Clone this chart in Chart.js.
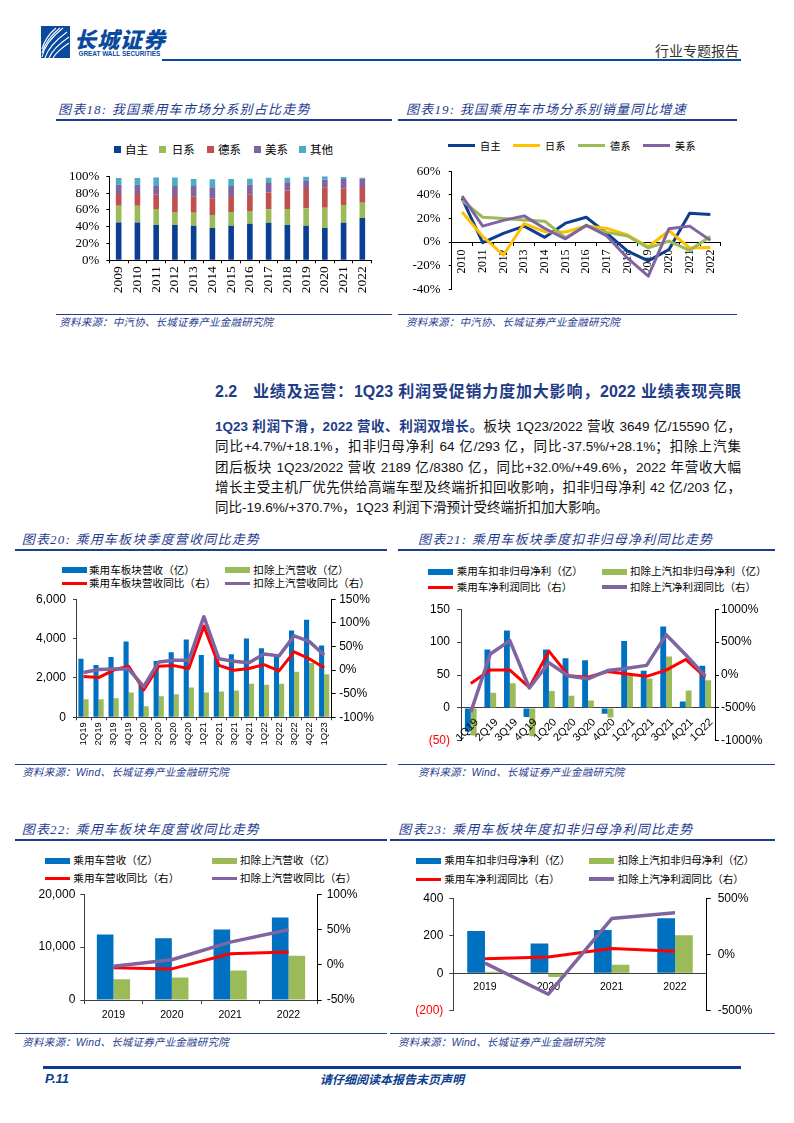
<!DOCTYPE html>
<html><head><meta charset="utf-8">
<script src="https://cdn.jsdelivr.net/npm/chart.js@4.4.1/dist/chart.umd.min.js"></script>
<style>
body{margin:0;background:#fff;}
#page{position:relative;width:794px;height:1123px;overflow:hidden;font-family:"Liberation Sans","Noto Sans CJK SC",sans-serif;color:#111;}
.ttl{position:absolute;font-size:13px;font-style:italic;color:#1F3D8F;letter-spacing:1.2px;white-space:nowrap;line-height:16px;font-family:"Liberation Serif","Noto Sans CJK SC",serif;}
.src{position:absolute;font-size:10.5px;font-style:italic;color:#1F3D8F;white-space:nowrap;line-height:14px;font-family:"Liberation Sans","Noto Sans CJK SC",sans-serif;letter-spacing:0.2px;}
.hl{position:absolute;height:1.5px;background:#1F3D8F;}
.bl{position:absolute;left:215px;width:526px;font-size:13.5px;line-height:20.3px;text-align:justify;text-align-last:justify;font-family:"Liberation Sans","Noto Sans CJK SC",sans-serif;color:#111;}
.bl b{color:#1F3C88;}
</style></head>
<body><div id="page">
  <!-- header -->
  <div style="position:absolute;left:40.5px;top:25.5px;width:29px;height:32px;background:#0A4A9E;overflow:hidden">
    <svg width="29" height="32" viewBox="0 0 29 32">
      <g fill="none" stroke="#fff" stroke-width="1.1">
        <path d="M1 31 Q4 16 22 2"/><path d="M1 27 Q5 13 19 2"/><path d="M1 23 Q5 10 15 2"/>
        <path d="M4 32 Q8 19 26 6"/><path d="M8 32 Q12 22 28 11"/><path d="M12 32 Q16 25 28 17"/>
      </g>
    </svg>
  </div>
  <div style="position:absolute;left:74px;top:24px;font-size:22px;line-height:28px;font-weight:900;color:#0A4A9E;letter-spacing:1px;font-family:'Noto Sans CJK SC';font-style:italic">长城证券</div>
  <div style="position:absolute;left:78.5px;top:50px;font-size:6.4px;line-height:8px;font-weight:bold;color:#0A4A9E;white-space:nowrap;font-family:'Liberation Sans'">GREAT WALL SECURITIES</div>
  <div style="position:absolute;right:55px;top:40px;font-size:14px;line-height:20px;color:#333;font-family:'Noto Sans CJK SC'">行业专题报告</div>
  <div style="position:absolute;left:161.5px;top:58.5px;width:579.5px;height:2.5px;background:#0A4A9E"></div>

  <!-- section text -->
  <div style="position:absolute;left:215px;top:380.7px;width:526px;font-size:16px;line-height:22px;font-weight:bold;color:#1F3C88;text-align:justify;text-align-last:justify;font-family:'Liberation Sans','Noto Sans CJK SC'">2.2&nbsp;&nbsp; 业绩及运营：1Q23 利润受促销力度加大影响，2022 业绩表现亮眼</div>
  <div class="bl" style="top:416.9px"><b>1Q23 利润下滑，2022 营收、利润双增长。</b>板块 1Q23/2022 营收 3649 亿/15590 亿，</div>
  <div class="bl" style="top:437.2px">同比+4.7%/+18.1%，扣非归母净利 64 亿/293 亿，同比-37.5%/+28.1%；扣除上汽集</div>
  <div class="bl" style="top:457.5px">团后板块 1Q23/2022 营收 2189 亿/8380 亿，同比+32.0%/+49.6%，2022 年营收大幅</div>
  <div class="bl" style="top:477.8px">增长主受主机厂优先供给高端车型及终端折扣回收影响，扣非归母净利 42 亿/203 亿，</div>
  <div class="bl" style="top:498.1px;text-align-last:left">同比-19.6%/+370.7%，1Q23 利润下滑预计受终端折扣加大影响。</div>

  <!-- footer -->
  <div style="position:absolute;left:42.5px;top:1066.3px;width:698.5px;height:2.3px;background:#0A3D91"></div>
  <div style="position:absolute;left:45px;top:1071px;font-size:13px;line-height:16px;font-weight:bold;font-style:italic;color:#0A3D91">P.11</div>
  <div style="position:absolute;left:320px;top:1071px;font-size:12px;line-height:16px;font-weight:bold;font-style:italic;color:#0A3D91;font-family:'Noto Sans CJK SC'">请仔细阅读本报告末页声明</div>
</div>
<script>
// ---------------- DATA ----------------
// Chart 18: share by origin (%)
const years18 = ['2009','2010','2011','2012','2013','2014','2015','2016','2017','2018','2019','2020','2021','2022'];
const share_zizhu = [45,45,42,42,41,38.5,41,43.6,44.8,42,41,38.5,44.8,50.4];
const share_rixi  = [20,20,19,15.5,15.7,15.5,16.5,15,16,19,21,24,21,18];
const share_dexi  = [14,14,17,19,19,20,19,19.5,20,22,24,24,20,19];
const share_meixi = [11,11,10.5,12,12.7,13,12,12,12,10,8.5,9.5,11,10];
const share_qita  = [8,8,10,10,8.3,9.5,8.3,7,5.6,5.4,5,4,2.5,1];
const legend18 = ['自主','日系','德系','美系','其他'];
// Chart 19: YoY sales growth by origin (%)
const years19 = ['2010','2011','2012','2013','2014','2015','2016','2017','2018','2019','2020','2021','2022'];
const growth_zizhu = [37,-0.5,7.4,13.5,4,16,21,7.4,-7.7,-16,-6.3,24.5,23.4];
const growth_rixi  = [25.5,4.7,-11,15.7,8.8,8.5,13.7,11.5,6,-4,9.6,-5,-4.7];
const growth_dexi  = [35.4,21,20,18.7,17.6,3.8,13.7,8.2,5.2,-5,0.8,-7,4.7];
const growth_meixi = [39,13.5,18.4,22.2,11.5,2.7,14.3,5.2,-13.7,-29,11.3,13.5,1.4];
const legend19 = ['自主','日系','德系','美系'];
// Chart 20: quarterly revenue (亿) and YoY (%)
const quarters20 = ['1Q19','2Q19','3Q19','4Q19','1Q20','2Q20','3Q20','4Q20','1Q21','2Q21','3Q21','4Q21','1Q22','2Q22','3Q22','4Q22','1Q23'];
const rev_pv        = [2975,2660,3060,3855,1650,2860,3305,3955,3160,3050,3205,4005,3505,3150,4405,4950,3649];
const rev_exSAIC    = [915,915,965,1265,565,1065,1165,1510,1265,1315,1365,1710,1660,1710,2310,2760,2189];
const revYoY_pv     = [-13.4,-16,0,8,-42,8,9.4,3.2,93,10,-0.3,3.2,11.5,-1.7,38.5,24,4.7];
const revYoY_exSAIC = [-5,1,2.5,2,-35,17,21,21,113,24,18.4,15.6,34,30,72.4,60.7,32];
const legend20 = ['乘用车板块营收（亿）','扣除上汽营收（亿）','乘用车板块营收同比（右）','扣除上汽营收同比（右）'];
// Chart 21: quarterly net profit ex non-recurring (亿) and YoY (%)
const quarters21 = ['1Q19','2Q19','3Q19','4Q19','1Q20','2Q20','3Q20','4Q20','1Q21','2Q21','3Q21','4Q21','1Q22'];
const np_pv        = [-36,88.6,117.8,-14,88.6,75.4,72.5,-8.8,101.7,56.4,123.6,9.7,64];
const np_exSAIC    = [-42,22.9,37.5,-43,25.8,18.5,11.2,-14.6,49,44.8,78.3,26.3,42];
const npYoY_pv     = [-129,75,75,-187,363,-10,-34,53,14,-20,75,236,-34];
const npYoY_exSAIC = [-564,319,523,-197,187,-15,-58,68,102,146,613,307,-15];
const legend21 = ['乘用车扣非归母净利（亿）','扣除上汽扣非归母净利（亿）','乘用车净利润同比（右）','扣除上汽净利润同比（右）'];
// Chart 22: annual revenue
const years22 = ['2019','2020','2021','2022'];
const annRev_pv        = [12400,11650,13350,15590];
const annRev_exSAIC    = [3900,4250,5600,8380];
const annRevYoY_pv     = [-4.4,-5.9,15.5,18.1];
const annRevYoY_exSAIC = [-2.1,7,32,49.6];
const legend22 = ['乘用车营收（亿）','扣除上汽营收（亿）','乘用车营收同比（右）','扣除上汽营收同比（右）'];
// Chart 23: annual net profit ex non-recurring
const years23 = ['2019','2020','2021','2022'];
const annNp_pv        = [225,159,231,293];
const annNp_exSAIC    = [8.5,-20.5,46,203];
const annNpYoY_pv     = [-36.7,-22.6,53.7,28.1];
const annNpYoY_exSAIC = [-76,-353,319,370.7];
const legend23 = ['乘用车扣非归母净利（亿）','扣除上汽扣非归母净利（亿）','乘用车净利润同比（右）','扣除上汽净利润同比（右）'];
// titles / sources
const titles = {
  c18:'图表18: 我国乘用车市场分系别占比走势', c19:'图表19: 我国乘用车市场分系别销量同比增速',
  c20:'图表20: 乘用车板块季度营收同比走势', c21:'图表21: 乘用车板块季度扣非归母净利同比走势',
  c22:'图表22: 乘用车板块年度营收同比走势', c23:'图表23: 乘用车板块年度扣非归母净利同比走势'
};
const srcA = '资料来源：中汽协、长城证券产业金融研究院';
const srcB = '资料来源：Wind、长城证券产业金融研究院';

// ---------------- STYLE ----------------
const BLUE='#0070C0', GREEN='#9BBB59', RED='#FF0000', PURPLE='#8064A2';
const C18 = ['#0B3F94','#9BBB59','#C0504D','#8064A2','#4BACC6'];
const C19 = ['#0D3E8F','#FFC000','#9BBB59','#8064A2'];

Chart.defaults.font.family = 'Liberation Sans';
Chart.defaults.color = '#000';

const page = document.getElementById('page');
function el(css, html, cls){ const e=document.createElement('div'); if(cls) e.className=cls; e.style.cssText=css; if(html!=null) e.textContent=html; page.appendChild(e); return e; }
function title(x, cy, text){ el(`left:${x}px;top:${cy-8}px`, text, 'ttl'); }
function src(x, cy, text){ el(`left:${x}px;top:${cy-7}px`, text, 'src'); }
function hline(x1, x2, y){ el(`left:${x1}px;width:${x2-x1}px;top:${y-0.75}px`, null, 'hl'); }
function sw(x, cy, w, h, color){ el(`position:absolute;left:${x}px;top:${cy-h/2}px;width:${w}px;height:${h}px;background:${color}`); }
function txt(x, cy, text, fs, extra){ el(`position:absolute;left:${x}px;top:${cy-fs*0.7}px;font-size:${fs}px;line-height:${fs*1.4}px;white-space:nowrap;font-family:'Noto Sans CJK SC';color:#000;${extra||''}`, text); }

function geom(rect, plot){ return {wl: plot[0]-rect[0], pt: plot[1]-rect[1], wr: rect[0]+rect[2]-plot[2], pb: rect[1]+rect[3]-plot[3]}; }
function mount(rect, config){
  const c=document.createElement('canvas'); c.width=rect[2]; c.height=rect[3];
  c.style.cssText=`position:absolute;left:${rect[0]}px;top:${rect[1]}px;width:${rect[2]}px;height:${rect[3]}px`;
  page.appendChild(c); return new Chart(c, config);
}
const base = {responsive:false, animation:false, devicePixelRatio:1, events:[],
  plugins:{legend:{display:false}, tooltip:{enabled:false}}};
function axisGrid(color, tl){ return {display:true, drawOnChartArea:false, drawTicks:true, tickLength:tl, color:color}; }

// ---------- titles, rules, sources ----------
title(58,110,titles.c18); hline(56,392,120); hline(56,392,314.3); src(59.3,322.3,srcA);
title(406,110,titles.c19); hline(398,737,120); hline(398,737,314.3); src(406,322.3,srcA);
title(21.7,540,titles.c20); hline(15,387,550); hline(15,387,764.3); src(22.3,772.3,srcB);
title(418,540,titles.c21); hline(398,775,550); hline(398,775,764.3); src(418,772.3,srcB);
title(21.7,830,titles.c22); hline(15,387,840); hline(15,387,1033.3); src(22.3,1041.7,srcB);
title(398.3,830,titles.c23); hline(390,775,840); hline(390,775,1033.3); src(398,1041.7,srcB);

// ---------- Chart 18 ----------
(function(){
  const sx=[114,159,206.7,254,299], tx=[125,171.7,218,265,310];
  legend18.forEach((t,i)=>{ sw(sx[i],149.3,7,7,C18[i]); txt(tx[i],149.3,t,11.5); });
  const rect=[30,160,355,140], g=geom(rect,[109.3,176.3,371.7,260.3]);
  const sets=[share_zizhu,share_rixi,share_dexi,share_meixi,share_qita];
  mount(rect,{type:'bar',
    data:{labels:years18, datasets: sets.map((d,i)=>({label:legend18[i], data:d, backgroundColor:C18[i], barPercentage:0.3, categoryPercentage:1}))},
    options:{...base, layout:{padding:{left:0,top:g.pt,right:g.wr,bottom:0}},
      scales:{
        x:{stacked:true, afterFit:s=>{s.height=g.pb;}, grid:axisGrid('#000',3), border:{color:'#000'},
           ticks:{minRotation:90,maxRotation:90,autoSkip:false,padding:3,font:{family:'Liberation Serif',size:13.5}}},
        y:{stacked:true, min:0, max:100, afterFit:s=>{s.width=g.wl;}, grid:axisGrid('#000',3), border:{color:'#000'},
           ticks:{stepSize:20, autoSkip:false, padding:7, callback:v=>v+'%', font:{family:'Liberation Serif',size:13}}}
      }}});
})();

// ---------- Chart 19 ----------
(function(){
  const lx=[448.3,513,578,643], tx=[480,545,610,675];
  legend19.forEach((t,i)=>{ sw(lx[i],145.7,26.7,3.3,C19[i]); txt(tx[i],145.7,t,10,'letter-spacing:0.5px'); });
  const rect=[395,155,340,150], g=geom(rect,[451.7,171.3,720.7,292.7]);
  const sets=[growth_zizhu,growth_rixi,growth_dexi,growth_meixi];
  mount(rect,{type:'line',
    data:{labels:years19, datasets: sets.map((d,i)=>({label:legend19[i], data:d, borderColor:C19[i], borderWidth:3, pointRadius:0, tension:0, borderJoinStyle:'round', order:4-i}))},
    options:{...base, layout:{padding:{left:0,top:g.pt,right:g.wr,bottom:g.pb}},
      scales:{
        x:{position:{y:0}, offset:true, grid:{...axisGrid('#000',3), offset:true}, border:{color:'#000'},
           ticks:{minRotation:90,maxRotation:90,autoSkip:false,padding:4.5,font:{family:'Liberation Serif',size:12}}},
        y:{min:-40, max:60, afterFit:s=>{s.width=g.wl;}, grid:axisGrid('#000',3), border:{color:'#000'},
           ticks:{stepSize:20, autoSkip:false, padding:8, callback:v=>v+'%', font:{family:'Liberation Serif',size:13}}}
      }}});
})();

// legend helper for charts 20-23
function legend4(labels, x1, tx1, x2, tx2, y1, y2, fs){
  sw(x1,y1,25,6,BLUE); txt(tx1,y1,labels[0],fs);
  sw(x2,y1,25,6,GREEN); txt(tx2,y1,labels[1],fs);
  sw(x1,y2,25,3,RED); txt(tx1,y2,labels[2],fs);
  sw(x2,y2,25,3.5,PURPLE); txt(tx2,y2,labels[3],fs);
}
function comboSets(b1,b2,l1,l2,lbl,bp,cp){
  return [
    {type:'line', label:lbl[3], data:l2, yAxisID:'y1', borderColor:PURPLE, borderWidth:3.5, pointRadius:0, tension:0, borderJoinStyle:'round', order:0},
    {type:'line', label:lbl[2], data:l1, yAxisID:'y1', borderColor:RED, borderWidth:3, pointRadius:0, tension:0, borderJoinStyle:'round', order:1},
    {type:'bar', label:lbl[0], data:b1, yAxisID:'y', backgroundColor:BLUE, barPercentage:bp, categoryPercentage:cp, order:2},
    {type:'bar', label:lbl[1], data:b2, yAxisID:'y', backgroundColor:GREEN, barPercentage:bp, categoryPercentage:cp, order:3}
  ];
}
const AX='#404040';
const tickFont={family:'Liberation Sans', size:12};

// ---------- Chart 20 ----------
(function(){
  legend4(legend20, 61.7, 89, 225, 253.3, 570, 583.3, 10.6);
  const rect=[20,585,365,175], g=geom(rect,[76,597,331.7,717.3]);
  mount(rect,{type:'bar',
    data:{labels:quarters20, datasets:comboSets(rev_pv,rev_exSAIC,revYoY_pv,revYoY_exSAIC,legend20,1,0.68)},
    options:{...base, layout:{padding:{left:0,top:g.pt,right:0,bottom:0}},
      scales:{
        x:{afterFit:s=>{s.height=g.pb;}, grid:axisGrid(AX,3), border:{color:AX},
           ticks:{minRotation:90,maxRotation:90,autoSkip:false,padding:2,font:{size:9.5}}},
        y:{position:'left', min:0, max:6000, afterFit:s=>{s.width=g.wl;}, grid:axisGrid(AX,3), border:{color:AX},
           ticks:{stepSize:2000, autoSkip:false, padding:7, font:tickFont, callback:v=>v.toLocaleString('en-US')}},
        y1:{position:'right', min:-100, max:150, afterFit:s=>{s.width=g.wr;}, grid:axisGrid('#000',4), border:{color:'#000'},
           ticks:{stepSize:50, autoSkip:false, padding:3.5, font:tickFont, callback:v=>v+'%'}}
      }}});
})();

// ---------- Chart 21 ----------
(function(){
  legend4(legend21, 428.3, 456.7, 601.7, 630, 571.7, 587, 10.5);
  const rect=[410,595,370,160], g=geom(rect,[461,606.3,715,743.3]);
  mount(rect,{type:'bar',
    data:{labels:quarters21, datasets:comboSets(np_pv,np_exSAIC,npYoY_pv,npYoY_exSAIC,legend21,1,0.6)},
    options:{...base, layout:{padding:{left:0,top:g.pt,right:0,bottom:g.pb}},
      scales:{
        x:{position:{y:0}, grid:axisGrid(AX,0), border:{color:AX},
           ticks:{z:1, minRotation:45,maxRotation:45,autoSkip:false,padding:8,labelOffset:6,font:{size:11}}},
        y:{position:'left', min:-50, max:150, afterFit:s=>{s.width=g.wl;}, grid:axisGrid(AX,4), border:{color:AX},
           ticks:{stepSize:50, autoSkip:false, padding:7, font:tickFont, color:c=>c.tick.value<0?'#FF0000':'#000',
                  callback:v=>v<0?'('+(-v)+')':String(v)}},
        y1:{position:'right', min:-1000, max:1000, afterFit:s=>{s.width=g.wr;}, grid:axisGrid('#000',4), border:{color:'#000'},
           ticks:{stepSize:500, autoSkip:false, padding:2, font:tickFont, callback:v=>v+'%'}}
      }}});
})();

// ---------- Chart 22 ----------
(function(){
  legend4(legend22, 45, 73.3, 211.7, 240, 860.7, 878.3, 10.6);
  const rect=[20,882,365,148], g=geom(rect,[84.3,894,317.7,1000]);
  mount(rect,{type:'bar',
    data:{labels:years22, datasets:comboSets(annRev_pv,annRev_exSAIC,annRevYoY_pv,annRevYoY_exSAIC,legend22,1,0.57)},
    options:{...base, layout:{padding:{left:0,top:g.pt,right:0,bottom:0}},
      scales:{
        x:{afterFit:s=>{s.height=g.pb;}, grid:axisGrid(AX,4), border:{color:AX},
           ticks:{padding:5,font:{size:10.5}}},
        y:{position:'left', min:0, max:20000, afterFit:s=>{s.width=g.wl;}, grid:axisGrid(AX,4), border:{color:AX},
           ticks:{stepSize:10000, autoSkip:false, padding:5, font:tickFont, callback:v=>v.toLocaleString('en-US')}},
        y1:{position:'right', min:-50, max:100, afterFit:s=>{s.width=g.wr;}, grid:axisGrid('#000',4), border:{color:'#000'},
           ticks:{stepSize:50, autoSkip:false, padding:5, font:tickFont, callback:v=>v+'%'}}
      }}});
})();

// ---------- Chart 23 ----------
(function(){
  legend4(legend23, 416, 444.3, 589.3, 617.7, 860.7, 879, 10.5);
  const rect=[400,884,380,141], g=geom(rect,[453.3,896,706.7,1014]);
  mount(rect,{type:'bar',
    data:{labels:years23, datasets:comboSets(annNp_pv,annNp_exSAIC,annNpYoY_pv,annNpYoY_exSAIC,legend23,1,0.56)},
    options:{...base, layout:{padding:{left:0,top:g.pt,right:0,bottom:g.pb}},
      scales:{
        x:{position:{y:0}, grid:axisGrid(AX,0), border:{color:AX},
           ticks:{padding:8,font:{size:10.5}}},
        y:{position:'left', min:-200, max:400, afterFit:s=>{s.width=g.wl;}, grid:axisGrid(AX,4), border:{color:AX},
           ticks:{stepSize:200, autoSkip:false, padding:6, font:tickFont, color:c=>c.tick.value<0?'#FF0000':'#000',
                  callback:v=>v<0?'('+(-v)+')':String(v)}},
        y1:{position:'right', min:-500, max:500, afterFit:s=>{s.width=g.wr;}, grid:axisGrid('#000',4), border:{color:'#000'},
           ticks:{stepSize:500, autoSkip:false, padding:7, font:tickFont, callback:v=>v+'%'}}
      }}});
})();
</script>
</body></html>
